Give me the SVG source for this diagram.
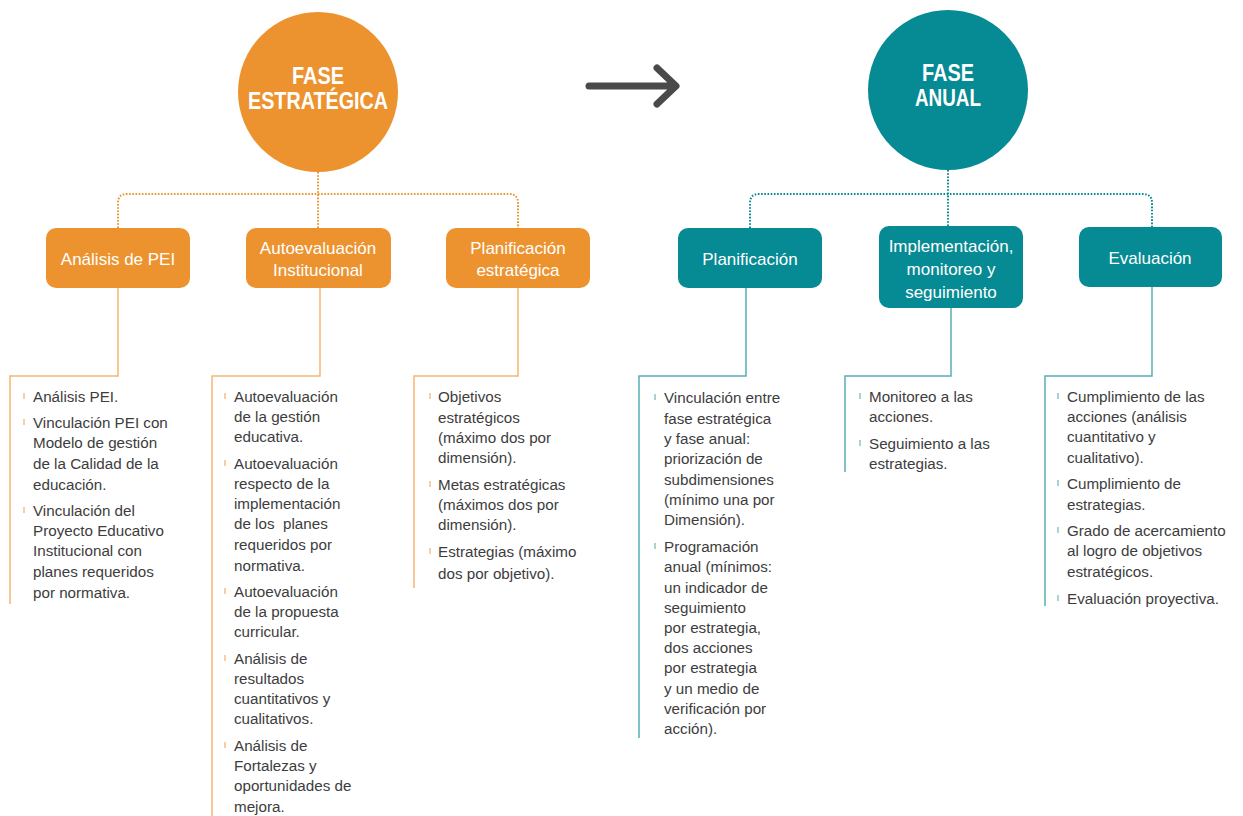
<svg xmlns="http://www.w3.org/2000/svg" width="1243" height="816" viewBox="0 0 1243 816">
<style>
.bg{fill:#ffffff}
.oc{fill:#ec9330}
.tc{fill:#068a93}
.ct{font-family:"Liberation Sans",Arial,sans-serif;font-weight:bold;font-size:23px;fill:#ffffff;text-anchor:middle}
.bt{font-family:"Liberation Sans",Arial,sans-serif;font-size:17px;fill:#ffffff;text-anchor:middle}
.tx{font-family:"Liberation Sans",Arial,sans-serif;font-size:15.2px;fill:#3d3d3d}
.odot{fill:none;stroke:#ec9330;stroke-width:2;stroke-dasharray:1.6 1.6}
.tdot{fill:none;stroke:#068a93;stroke-width:2;stroke-dasharray:1.6 1.6}
.oln{fill:none;stroke:#f5b574;stroke-width:1.5}
.tln{fill:none;stroke:#5aaeb4;stroke-width:1.5}
.ob{stroke:#f3b064;stroke-width:1.2}
.tb{stroke:#6bb6bb;stroke-width:1.2}
</style>
<rect class="bg" x="0" y="0" width="1243" height="816"/>

<g id="connectors">
  <path class="odot" d="M318 172 V228 M118 228 V203 Q118 194 127 194 H509 Q518 194 518 203 V228"/>
  <path class="tdot" d="M948 170 V226 M750 228 V203 Q750 194 759 194 H1143 Q1152 194 1152 203 V227"/>
  <path class="oln" d="M118 288 V376 H10 V604"/>
  <path class="oln" d="M320 288 V376 H212 V816"/>
  <path class="oln" d="M518 288 V376 H414 V588"/>
  <path class="tln" d="M746 288 V376 H639 V738"/>
  <path class="tln" d="M951 308 V376 H845 V472"/>
  <path class="tln" d="M1152 287 V376 H1045 V606"/>
  <g id="arrow" fill="none" stroke="#4a4a4a" stroke-width="7" stroke-linecap="round" stroke-linejoin="round">
    <path d="M589 86 H675 M657 68 L676 86 L657 104"/>
  </g>
</g>

<g id="fase-estrategica">
  <circle class="oc" cx="318" cy="92" r="80"/>
  <text class="ct" x="318" y="84" textLength="52" lengthAdjust="spacingAndGlyphs">FASE</text>
  <text class="ct" x="318" y="109" textLength="140" lengthAdjust="spacingAndGlyphs">ESTRATÉGICA</text>
</g>
<g id="fase-anual">
  <circle class="tc" cx="948" cy="90" r="80"/>
  <text class="ct" x="948" y="81" textLength="52" lengthAdjust="spacingAndGlyphs">FASE</text>
  <text class="ct" x="948" y="106" textLength="66" lengthAdjust="spacingAndGlyphs">ANUAL</text>
</g>

<g id="analisis-pei">
  <rect class="oc" x="46" y="228" width="144" height="60" rx="10"/>
  <text class="bt" x="118" y="265">Análisis de PEI</text>
</g>
<g id="autoevaluacion">
  <rect class="oc" x="246" y="228" width="145" height="60" rx="10"/>
  <text class="bt" x="318" y="254">Autoevaluación</text>
  <text class="bt" x="318" y="276">Institucional</text>
</g>
<g id="planificacion-estrategica">
  <rect class="oc" x="446" y="228" width="144" height="60" rx="10"/>
  <text class="bt" x="518" y="254">Planificación</text>
  <text class="bt" x="518" y="276">estratégica</text>
</g>
<g id="planificacion">
  <rect class="tc" x="678" y="228" width="144" height="60" rx="10"/>
  <text class="bt" x="750" y="265">Planificación</text>
</g>
<g id="implementacion">
  <rect class="tc" x="879" y="226" width="144" height="82" rx="10"/>
  <text class="bt" x="951" y="252">Implementación,</text>
  <text class="bt" x="951" y="275">monitoreo y</text>
  <text class="bt" x="951" y="298">seguimiento</text>
</g>
<g id="evaluacion">
  <rect class="tc" x="1079" y="227" width="143" height="60" rx="10"/>
  <text class="bt" x="1150" y="264">Evaluación</text>
</g>

<g id="lista-analisis">
  <path class="ob" d="M24 393 v6 M24 419 v6 M24 507 v6"/>
  <text class="tx" x="33" y="402">Análisis PEI.</text>
  <text class="tx" x="33" y="428">Vinculación PEI con</text>
  <text class="tx" x="33" y="448">Modelo de gestión</text>
  <text class="tx" x="33" y="469">de la Calidad de la</text>
  <text class="tx" x="33" y="490">educación.</text>
  <text class="tx" x="33" y="516">Vinculación del</text>
  <text class="tx" x="33" y="536">Proyecto Educativo</text>
  <text class="tx" x="33" y="556">Institucional con</text>
  <text class="tx" x="33" y="577">planes requeridos</text>
  <text class="tx" x="33" y="598">por normativa.</text>
</g>

<g id="lista-autoevaluacion">
  <path class="ob" d="M225 393 v6 M225 460 v6 M225 588 v6 M225 655 v6 M225 742 v6"/>
  <text class="tx" x="234" y="402">Autoevaluación</text>
  <text class="tx" x="234" y="422">de la gestión</text>
  <text class="tx" x="234" y="442">educativa.</text>
  <text class="tx" x="234" y="469">Autoevaluación</text>
  <text class="tx" x="234" y="489">respecto de la</text>
  <text class="tx" x="234" y="509">implementación</text>
  <text class="tx" x="234" y="529" xml:space="preserve">de los  planes</text>
  <text class="tx" x="234" y="550">requeridos por</text>
  <text class="tx" x="234" y="571">normativa.</text>
  <text class="tx" x="234" y="597">Autoevaluación</text>
  <text class="tx" x="234" y="617">de la propuesta</text>
  <text class="tx" x="234" y="637">curricular.</text>
  <text class="tx" x="234" y="664">Análisis de</text>
  <text class="tx" x="234" y="684">resultados</text>
  <text class="tx" x="234" y="704">cuantitativos y</text>
  <text class="tx" x="234" y="724">cualitativos.</text>
  <text class="tx" x="234" y="751">Análisis de</text>
  <text class="tx" x="234" y="771">Fortalezas y</text>
  <text class="tx" x="234" y="791">oportunidades de</text>
  <text class="tx" x="234" y="812">mejora.</text>
</g>

<g id="lista-planificacion-estrategica">
  <path class="ob" d="M430 393 v6 M430 481 v6 M430 548 v6"/>
  <text class="tx" x="438" y="402">Objetivos</text>
  <text class="tx" x="438" y="423">estratégicos</text>
  <text class="tx" x="438" y="443">(máximo dos por</text>
  <text class="tx" x="438" y="463">dimensión).</text>
  <text class="tx" x="438" y="490">Metas estratégicas</text>
  <text class="tx" x="438" y="510">(máximos dos por</text>
  <text class="tx" x="438" y="530">dimensión).</text>
  <text class="tx" x="438" y="557">Estrategias (máximo</text>
  <text class="tx" x="438" y="579">dos por objetivo).</text>
</g>

<g id="lista-planificacion">
  <path class="tb" d="M655 394 v6 M655 543 v6"/>
  <text class="tx" x="664" y="403">Vinculación entre</text>
  <text class="tx" x="664" y="424">fase estratégica</text>
  <text class="tx" x="664" y="444">y fase anual:</text>
  <text class="tx" x="664" y="464">priorización de</text>
  <text class="tx" x="664" y="485">subdimensiones</text>
  <text class="tx" x="664" y="505">(mínimo una por</text>
  <text class="tx" x="664" y="525">Dimensión).</text>
  <text class="tx" x="664" y="552">Programación</text>
  <text class="tx" x="664" y="572">anual (mínimos:</text>
  <text class="tx" x="664" y="593">un indicador de</text>
  <text class="tx" x="664" y="613">seguimiento</text>
  <text class="tx" x="664" y="633">por estrategia,</text>
  <text class="tx" x="664" y="653">dos acciones</text>
  <text class="tx" x="664" y="673">por estrategia</text>
  <text class="tx" x="664" y="694">y un medio de</text>
  <text class="tx" x="664" y="714">verificación por</text>
  <text class="tx" x="664" y="734">acción).</text>
</g>

<g id="lista-implementacion">
  <path class="tb" d="M860 393 v6 M860 440 v6"/>
  <text class="tx" x="869" y="402">Monitoreo a las</text>
  <text class="tx" x="869" y="422">acciones.</text>
  <text class="tx" x="869" y="449">Seguimiento a las</text>
  <text class="tx" x="869" y="469">estrategias.</text>
</g>

<g id="lista-evaluacion">
  <path class="tb" d="M1058 393 v6 M1058 480 v6 M1058 527 v6 M1058 595 v6"/>
  <text class="tx" x="1067" y="402">Cumplimiento de las</text>
  <text class="tx" x="1067" y="422">acciones (análisis</text>
  <text class="tx" x="1067" y="442">cuantitativo y</text>
  <text class="tx" x="1067" y="463">cualitativo).</text>
  <text class="tx" x="1067" y="489">Cumplimiento de</text>
  <text class="tx" x="1067" y="510">estrategias.</text>
  <text class="tx" x="1067" y="536">Grado de acercamiento</text>
  <text class="tx" x="1067" y="556">al logro de objetivos</text>
  <text class="tx" x="1067" y="577">estratégicos.</text>
  <text class="tx" x="1067" y="604">Evaluación proyectiva.</text>
</g>
</svg>
